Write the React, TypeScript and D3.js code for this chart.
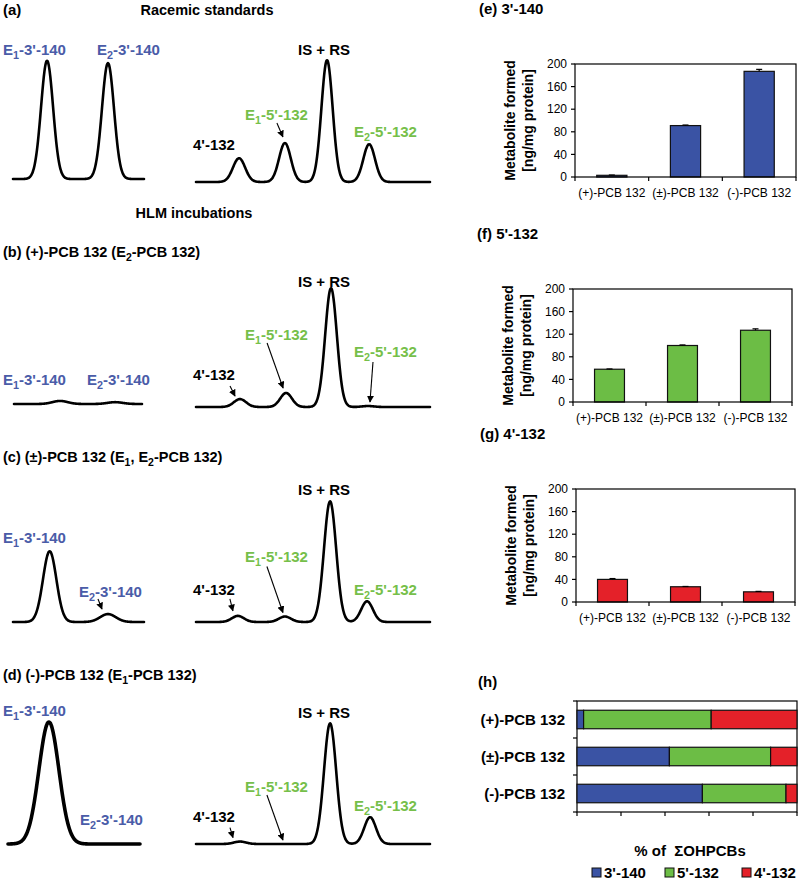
import React from 'react';
import * as d3 from 'd3';

const FONT = "'Liberation Sans', Arial, Helvetica, sans-serif";
const BLUE_TXT = '#4a5ca8';
const GREEN_TXT = '#76bf4a';
const BAR_BLUE = '#3a53a4';
const BAR_GREEN = '#6cbd45';
const BAR_RED = '#e42129';

// ---------- bar chart data ----------
const substrates = ['(+)-PCB 132', '(±)-PCB 132', '(-)-PCB 132'];
const yTicks = [0, 40, 80, 120, 160, 200];
const formed3_140 = [3, 91, 187];
const err3_140 = [0.5, 1, 3.5];
const formed5_132 = [58, 100, 127];
const err5_132 = [0.5, 1, 2.5];
const formed4_132 = [40, 27, 18];
const err4_132 = [1.5, 0.5, 0.8];
const metabolites = ["3'-140", "5'-132", "4'-132"];
const pct3_140 = [3, 42, 57];
const pct5_132 = [58, 46, 38];
const pct4_132 = [39, 12, 5];
const pctTicks = [0, 20, 40, 60, 80, 100];

// ---------- chromatogram data (relative retention 0-100, relative intensity 0-100) ----------
const leftPeakNames = ["E1-3'-140", "E2-3'-140"];
const rightPeakNames = ["4'-132", "E1-5'-132", 'IS + RS', "E2-5'-132"];

const rtLeftA = [26, 72.5];
const htLeftA = [97, 95];
const sdLeftA = [4.6, 4.6];
const rtRightA = [18.4, 38.0, 56.0, 74.0];
const htRightA = [19.5, 32, 100, 31];
const sdRightA = [2.6, 2.5, 2.4, 2.5];

const rtLeftB = [36, 79];
const htLeftB = [2.5, 1.5];
const sdLeftB = [6, 6];
const rtRightB = [18.8, 38.5, 57.7, 73.5];
const htRightB = [6.5, 11.5, 97.5, 0.8];
const sdRightB = [2.6, 2.5, 2.5, 2.5];

const rtLeftC = [28, 72.5];
const htLeftC = [58, 6.5];
const sdLeftC = [5.1, 6];
const rtRightC = [17.9, 38.0, 57.3, 73.1];
const htRightC = [5, 4.5, 99, 17];
const sdRightC = [2.6, 2.6, 2.6, 2.5];

const rtLeftD = [31, 75];
const htLeftD = [100, 0];
const sdLeftD = [7.6, 5];
const rtRightD = [18.8, 38.0, 57.3, 74.4];
const htRightD = [2, 0, 99, 22];
const sdRightD = [2.6, 2.5, 2.6, 2.5];

// ---------- helpers ----------
function Rich({ x, y, text, fs = 15, fill = '#000', anchor = 'start', weight = 'bold' }: any) {
  const parts: { t: string; sub: boolean }[] = [];
  const re = /E(\d)/g;
  let last = 0;
  let m: RegExpExecArray | null;
  while ((m = re.exec(text))) {
    parts.push({ t: text.slice(last, m.index + 1), sub: false });
    parts.push({ t: m[1], sub: true });
    last = m.index + 2;
  }
  parts.push({ t: text.slice(last), sub: false });
  let cur = 0;
  const off = fs * 0.27;
  const kids = parts
    .filter((p) => p.t.length > 0)
    .map((p, i) => {
      const target = p.sub ? off : 0;
      const dy = target - cur;
      cur = target;
      return (
        <tspan key={i} dy={dy} fontSize={p.sub ? fs * 0.72 : fs}>
          {p.t}
        </tspan>
      );
    });
  return (
    <text x={x} y={y} fontFamily={FONT} fontWeight={weight} fill={fill} textAnchor={anchor} fontSize={fs} style={{ whiteSpace: 'pre' }}>
      {kids}
    </text>
  );
}

function traceScales(x0: number, x1: number, base: number) {
  const xs = d3.scaleLinear().domain([0, 100]).range([x0, x1]);
  const ys = d3.scaleLinear().domain([0, 100]).range([base, base - 122]);
  return { xs, ys };
}

function Trace({ x0, x1, base, rts, hts, sds, sw = 2.6 }: any) {
  const { xs, ys } = traceScales(x0, x1, base);
  const pts: [number, number][] = d3.range(0, 100.001, 0.25).map((t) => {
    let v = 0;
    rts.forEach((rt: number, i: number) => {
      v += hts[i] * Math.exp(-((t - rt) ** 2) / (2 * sds[i] ** 2));
    });
    return [t, v];
  });
  const line = d3
    .line<[number, number]>()
    .x((d) => xs(d[0]))
    .y((d) => ys(d[1]))
    .curve(d3.curveBasis);
  return <path d={line(pts) || ''} fill="none" stroke="#000" strokeWidth={sw} strokeLinejoin="round" strokeLinecap="round" />;
}

function Arrow({ x0, x1, base, rt, ht, tip, tail }: any) {
  const { xs, ys } = traceScales(x0, x1, base);
  const tx = xs(rt) + tip[0];
  const ty = ys(ht) + tip[1];
  const sx = tx + tail[0];
  const sy = ty + tail[1];
  return <line x1={sx} y1={sy} x2={tx} y2={ty} stroke="#000" strokeWidth={1.1} markerEnd="url(#ah)" />;
}

function BarPanel({ left, top, width, height, values, errors, color, title }: any) {
  const x = d3.scaleBand().domain(substrates).range([left, left + width]).paddingInner(0.59).paddingOuter(0.295);
  const y = d3.scaleLinear().domain([0, 200]).range([top + height, top]);
  const bottom = top + height;
  const step = x.step();
  return (
    <g>
      <Rich x={left - 96} y={top - 50} text={title} fs={15} />
      <text transform={`translate(${left - 60},${top + height / 2}) rotate(-90)`} textAnchor="middle" fontFamily={FONT} fontWeight="bold" fontSize={14}>
        Metabolite formed
      </text>
      <text transform={`translate(${left - 42},${top + height / 2}) rotate(-90)`} textAnchor="middle" fontFamily={FONT} fontWeight="bold" fontSize={14}>
        [ng/mg protein]
      </text>
      {values.map((v: number, i: number) => {
        const cx = (x(substrates[i]) as number) + x.bandwidth() / 2;
        return (
          <g key={i}>
            <rect x={x(substrates[i])} y={y(v)} width={x.bandwidth()} height={bottom - y(v)} fill={color} stroke="#111" strokeWidth={1.2} />
            <line x1={cx} x2={cx} y1={y(v)} y2={y(v + errors[i])} stroke="#000" strokeWidth={1.2} />
            <line x1={cx - 3} x2={cx + 3} y1={y(v + errors[i])} y2={y(v + errors[i])} stroke="#000" strokeWidth={1.2} />
          </g>
        );
      })}
      <rect x={left} y={top} width={width} height={height} fill="none" stroke="#000" strokeWidth={1.2} />
      {yTicks.map((t) => (
        <g key={t}>
          <line x1={left - 4} x2={left} y1={y(t)} y2={y(t)} stroke="#000" strokeWidth={1.2} />
          <text x={left - 8} y={y(t)} dy="0.35em" textAnchor="end" fontFamily={FONT} fontSize={12}>
            {t}
          </text>
        </g>
      ))}
      {[0, 1, 2, 3].map((i) => (
        <line key={i} x1={left + i * step} x2={left + i * step} y1={bottom} y2={bottom + 4} stroke="#000" strokeWidth={1.2} />
      ))}
      {substrates.map((s) => (
        <text key={s} x={(x(s) as number) + x.bandwidth() / 2} y={bottom + 20} textAnchor="middle" fontFamily={FONT} fontSize={12}>
          {s}
        </text>
      ))}
    </g>
  );
}

function StackPanel() {
  const left = 577, right = 797, top = 701, bottom = 812;
  const x = d3.scaleLinear().domain([0, 100]).range([left, right]);
  const y = d3.scaleBand().domain(substrates).range([top, bottom]).paddingInner(0.5).paddingOuter(0.25);
  const table = substrates.map((s, i) => ({ s, "3'-140": pct3_140[i], "5'-132": pct5_132[i], "4'-132": pct4_132[i] }));
  const stack = d3.stack<any>().keys(metabolites)(table);
  const colors = [BAR_BLUE, BAR_GREEN, BAR_RED];
  const bounds = [top, top + y.step() * 1, top + y.step() * 2, bottom];
  const legendX = [592, 665, 742];
  return (
    <g>
      <text x={478} y={687} fontFamily={FONT} fontWeight="bold" fontSize={15}>(h)</text>
      <rect x={left} y={top} width={right - left} height={bottom - top} fill="none" stroke="#000" strokeWidth={1.2} />
      {stack.map((layer, li) => (
        <g key={li}>
          {layer.map((d, i) => (
            <rect key={i} x={x(d[0])} y={y(substrates[i])} width={x(d[1]) - x(d[0])} height={y.bandwidth()} fill={colors[li]} stroke="#111" strokeWidth={1.2} />
          ))}
        </g>
      ))}
      {bounds.map((b, i) => (
        <line key={i} x1={left - 4} x2={left} y1={b} y2={b} stroke="#000" strokeWidth={1.2} />
      ))}
      {pctTicks.map((t) => (
        <line key={t} x1={x(t)} x2={x(t)} y1={bottom} y2={bottom + 4} stroke="#000" strokeWidth={1.2} />
      ))}
      {substrates.map((s) => (
        <text key={s} x={565} y={(y(s) as number) + y.bandwidth() / 2 + 5} textAnchor="end" fontFamily={FONT} fontWeight="bold" fontSize={15}>
          {s}
        </text>
      ))}
      <text x={690} y={856} textAnchor="middle" fontFamily={FONT} fontWeight="bold" fontSize={15} style={{ whiteSpace: 'pre' }}>
        {'% of  ΣOHPCBs'}
      </text>
      {metabolites.map((m, i) => (
        <g key={m}>
          <rect x={legendX[i]} y={868} width={9} height={9} fill={colors[i]} stroke="#111" strokeWidth={1} />
          <text x={legendX[i] + 12} y={878} fontFamily={FONT} fontWeight="bold" fontSize={15}>
            {m}
          </text>
        </g>
      ))}
    </g>
  );
}

// ---------- layout of the chromatogram panels ----------
const LX = [[13, 144], [14, 142], [13, 144], [8, 140]];
const RX = [196, 430];
const baseL = [179, 404, 622, 844];
const baseR = [182, 407, 622, 844];

export default function App() {
  const rtL = [rtLeftA, rtLeftB, rtLeftC, rtLeftD];
  const htL = [htLeftA, htLeftB, htLeftC, htLeftD];
  const sdL = [sdLeftA, sdLeftB, sdLeftC, sdLeftD];
  const rtR = [rtRightA, rtRightB, rtRightC, rtRightD];
  const htR = [htRightA, htRightB, htRightC, htRightD];
  const sdR = [sdRightA, sdRightB, sdRightC, sdRightD];
  const swL = [2.6, 2.6, 2.6, 3.6];

  // label positions [left panel labels], [right panel labels] per panel
  const labL = [
    [[3, 55], [97, 55]],
    [[3, 385], [87, 385]],
    [[3, 543], [79, 597]],
    [[3, 716], [80, 825]],
  ];
  const labR = [
    [[193, 150], [245, 120], [298, 55], [354, 137]],
    [[193, 380], [245, 340], [298, 287], [354, 357]],
    [[193, 595], [245, 562], [298, 495], [354, 595]],
    [[193, 822], [245, 792], [298, 718], [354, 811]],
  ];
  const labColorR = ['#000', GREEN_TXT, '#000', GREEN_TXT];

  // arrows: [side, peak index, tip offset from apex, tail offset from tip]
  const arrows: any[][] = [
    [['R', 1, [-2, -6], [-6, -14]]],
    [
      ['R', 0, [-5, -3], [-5, -10]],
      ['R', 1, [-3, -5], [-16, -45]],
      ['R', 3, [2, -4], [3, -40]],
    ],
    [
      ['L', 1, [-6, -5], [-4, -10]],
      ['R', 0, [-5, -5], [-3, -12]],
      ['R', 1, [-2, -4], [-16, -46]],
    ],
    [
      ['R', 0, [-7, -4], [-3, -10]],
      ['R', 1, [-2, -4], [-16, -45]],
    ],
  ];

  const titles = ['', '(b) (+)-PCB 132 (E2-PCB 132)', '(c) (±)-PCB 132 (E1, E2-PCB 132)', '(d) (-)-PCB 132 (E1-PCB 132)'];
  const titleY = [0, 257, 462, 680];

  return (
    <svg width={800} height={881} style={{ position: 'absolute', left: 0, top: 0, background: '#fff' }}>
      <defs>
        <marker id="ah" viewBox="0 0 10 10" refX="9" refY="5" markerWidth="7" markerHeight="7" markerUnits="userSpaceOnUse" orient="auto">
          <path d="M0,0 L10,5 L0,10 z" fill="#000" />
        </marker>
      </defs>
      <rect x={0} y={0} width={800} height={881} fill="#fff" />
      <text x={3} y={15} fontFamily={FONT} fontWeight="bold" fontSize={15}>(a)</text>
      <text x={207} y={15} textAnchor="middle" fontFamily={FONT} fontWeight="bold" fontSize={14.5}>Racemic standards</text>
      <text x={194} y={218} textAnchor="middle" fontFamily={FONT} fontWeight="bold" fontSize={14.5}>HLM incubations</text>
      {titles.map((t, i) => (t ? <Rich key={i} x={3} y={titleY[i]} text={t} fs={14.5} /> : null))}

      {[0, 1, 2, 3].map((p) => (
        <g key={p}>
          <Trace x0={LX[p][0]} x1={LX[p][1]} base={baseL[p]} rts={rtL[p]} hts={htL[p]} sds={sdL[p]} sw={swL[p]} />
          <Trace x0={RX[0]} x1={RX[1]} base={baseR[p]} rts={rtR[p]} hts={htR[p]} sds={sdR[p]} />
          {leftPeakNames.map((n, i) => (
            <Rich key={n} x={labL[p][i][0]} y={labL[p][i][1]} text={n} fill={BLUE_TXT} />
          ))}
          {rightPeakNames.map((n, i) => (
            <Rich key={n} x={labR[p][i][0]} y={labR[p][i][1]} text={n} fill={labColorR[i]} />
          ))}
          {arrows[p].map((a, k) => {
            const isL = a[0] === 'L';
            return (
              <Arrow
                key={k}
                x0={isL ? LX[p][0] : RX[0]}
                x1={isL ? LX[p][1] : RX[1]}
                base={isL ? baseL[p] : baseR[p]}
                rt={(isL ? rtL[p] : rtR[p])[a[1]]}
                ht={(isL ? htL[p] : htR[p])[a[1]]}
                tip={a[2]}
                tail={a[3]}
              />
            );
          })}
        </g>
      ))}

      <BarPanel left={575} top={64} width={221} height={113} values={formed3_140} errors={err3_140} color={BAR_BLUE} title="(e) 3'-140" />
      <BarPanel left={573} top={289} width={219} height={113} values={formed5_132} errors={err5_132} color={BAR_GREEN} title="(f) 5'-132" />
      <BarPanel left={576} top={489} width={219} height={113} values={formed4_132} errors={err4_132} color={BAR_RED} title="(g) 4'-132" />
      <StackPanel />
    </svg>
  );
}
